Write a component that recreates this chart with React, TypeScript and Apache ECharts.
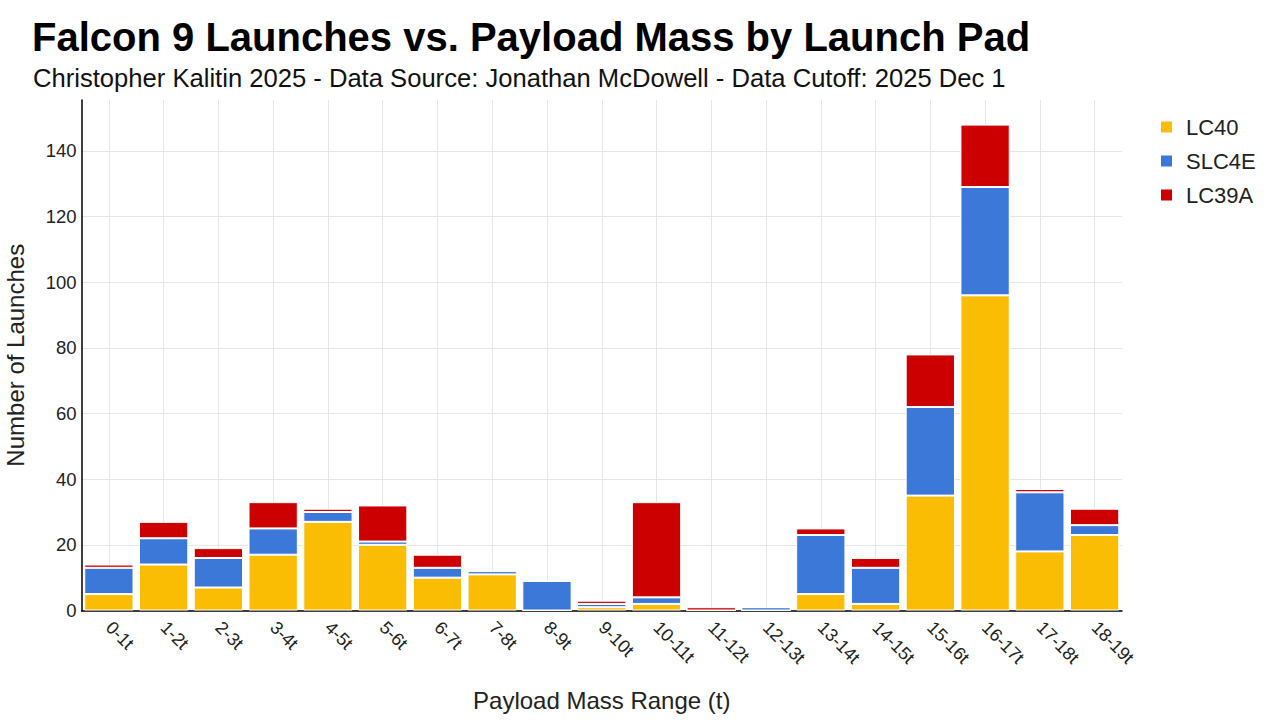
import * as echarts from "echarts";
import { useEffect, useRef } from "react";

const categories = [
	"0-1t", "1-2t", "2-3t", "3-4t", "4-5t", "5-6t", "6-7t", "7-8t", "8-9t", "9-10t",
	"10-11t", "11-12t", "12-13t", "13-14t", "14-15t", "15-16t", "16-17t", "17-18t", "18-19t",
];
const lc40 = [5, 14, 7, 17, 27, 20, 10, 11, 0, 1, 2, 0, 0, 5, 2, 35, 96, 18, 23];
const slc4e = [8, 8, 9, 8, 3, 1, 3, 1, 9, 1, 2, 0, 1, 18, 11, 27, 33, 18, 3];
const lc39a = [1, 5, 3, 8, 1, 11, 4, 0, 0, 1, 29, 1, 0, 2, 3, 16, 19, 1, 5];
const yTicks = [0, 20, 40, 60, 80, 100, 120, 140];

const FONT = "'Liberation Sans', Arial, sans-serif";
const GRID = "#e6e6e6";

export default function App() {
	const ref = useRef<HTMLDivElement>(null);
	useEffect(() => {
		document.body.style.margin = "0";
		if (!ref.current) return;
		const chart = echarts.init(ref.current, undefined, { renderer: "svg" });
		const bar = (name: string, data: number[], color: string) => ({
			name,
			type: "bar",
			stack: "total",
			data,
			barCategoryGap: "10%",
			itemStyle: { color, borderColor: "#ffffff", borderWidth: 1 },
		});
		chart.setOption({
			animation: false,
			textStyle: { fontFamily: FONT },
			title: [
				{
					text: "Falcon 9 Launches vs. Payload Mass by Launch Pad",
					left: 27,
					top: 12,
					textStyle: { fontSize: 40, fontWeight: "bold", color: "#000", fontFamily: FONT },
				},
				{
					text: "Christopher Kalitin 2025 - Data Source: Jonathan McDowell - Data Cutoff: 2025 Dec 1",
					left: 28,
					top: 60,
					textStyle: { fontSize: 25.6, fontWeight: "normal", color: "#111", fontFamily: FONT },
				},
			],
			legend: {
				orient: "vertical",
				left: 1154,
				top: 111,
				itemWidth: 13,
				itemHeight: 13,
				itemGap: 12,
				icon: "rect",
				textStyle: { fontSize: 22, color: "#222", fontFamily: FONT, padding: [0, 0, 0, 8] },
				data: ["LC40", "SLC4E", "LC39A"],
			},
			grid: { left: 81.5, right: 158, top: 100, bottom: 109.5, outerBoundsMode: "none" },
			xAxis: {
				type: "category",
				data: categories,
				name: "Payload Mass Range (t)",
				nameLocation: "middle",
				nameGap: 78,
				nameTextStyle: { fontSize: 24, color: "#222", fontFamily: FONT },
				axisLine: { lineStyle: { color: "#000", width: 1.5 } },
				axisTick: { show: false },
				axisLabel: { rotate: -45, fontSize: 18, color: "#222", margin: 14, fontFamily: FONT },
				splitLine: { show: true, alignWithLabel: true, lineStyle: { color: GRID } },
			},
			yAxis: {
				type: "value",
				min: 0,
				max: 155.5,
				interval: 20,
				name: "Number of Launches",
				nameLocation: "middle",
				nameGap: 54,
				nameTextStyle: { fontSize: 24, color: "#222", fontFamily: FONT },
				axisLine: { show: true, lineStyle: { color: "#000", width: 1.5 } },
				axisLabel: {
					fontSize: 18.5,
					color: "#222",
					margin: 5,
					fontFamily: FONT,
					formatter: (v: number) => (yTicks.includes(v) ? String(v) : ""),
				},
				splitLine: {
					showMaxLine: false,
					lineStyle: { color: [...yTicks.map(() => GRID), "rgba(0,0,0,0)"] },
				},
			},
			series: [
				bar("LC40", lc40, "#fbbc04"),
				bar("SLC4E", slc4e, "#3c78d8"),
				bar("LC39A", lc39a, "#cc0000"),
			],
		});
		return () => chart.dispose();
	}, []);
	return <div ref={ref} style={{ width: 1280, height: 720 }} />;
}
